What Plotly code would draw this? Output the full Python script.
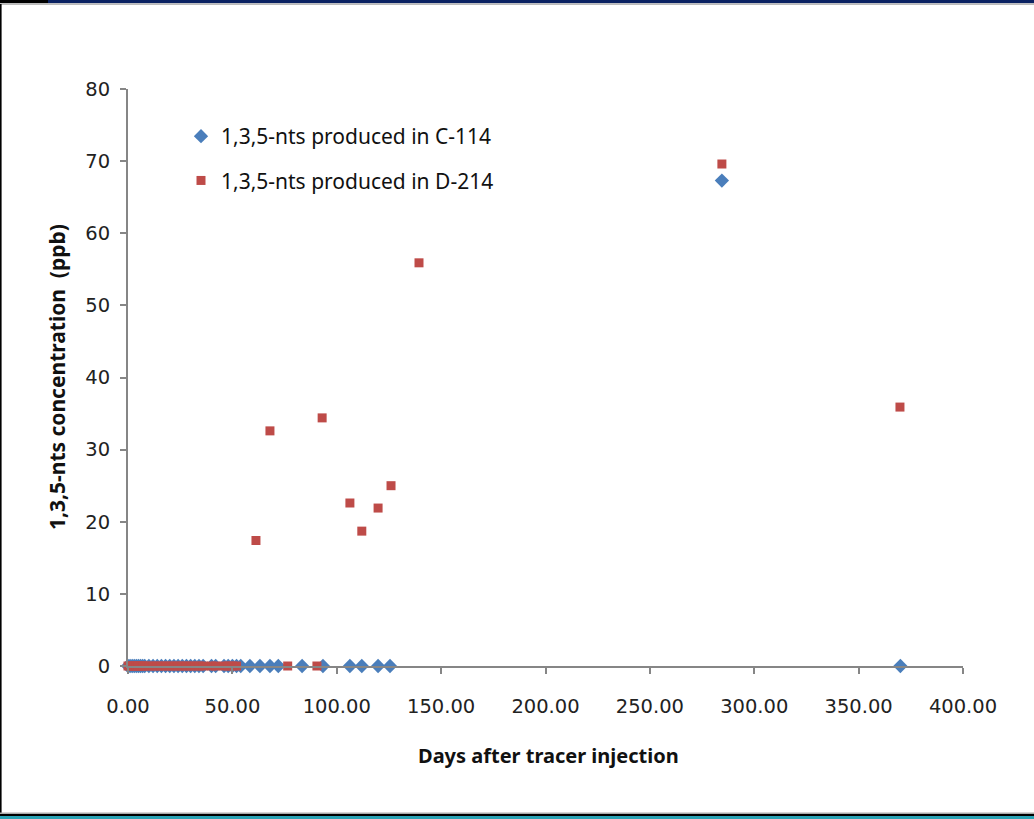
import plotly.graph_objects as go

# ---- data ----
c114_days = [0, 1, 2, 3, 4, 5, 6, 7, 8, 10, 12, 14, 16, 18, 20, 22, 24, 26, 28, 30,
             32, 34, 36, 40, 42, 46, 48, 50, 52, 54, 58.4, 63.2, 68, 72, 83.4, 93.4,
             106.3, 112, 119.8, 125.5, 284.5, 370]
c114_conc = [0] * 40 + [67.3, 0]

d214_days = [0, 1, 2, 3, 4, 5, 6, 7, 8, 10, 12, 14, 16, 18, 20, 22, 24, 26, 28, 30,
             32, 34, 36, 40, 42, 46, 48, 50, 52, 61.3, 68, 76.5, 90.5, 93, 106.3, 112,
             119.8, 126, 139.4, 284.5, 369.8]
d214_conc = [0] * 29 + [17.4, 32.6, 0, 0, 34.4, 22.6, 18.7, 21.9, 25.0, 55.9, 69.6, 35.9]

x_ticks = [0, 50, 100, 150, 200, 250, 300, 350, 400]
y_ticks = [0, 10, 20, 30, 40, 50, 60, 70, 80]

series_names = ["1,3,5-nts produced in C-114", "1,3,5-nts produced in D-214"]

# ---- layout geometry (pixels) ----
W, H = 1034, 819
L, R, T, B = 128, 963, 89, 666


def px(xp):
    return (xp - L) / (R - L)


def py(yp):
    return (B - yp) / (B - T)


fig = go.Figure()
fig.add_trace(go.Scatter(
    x=c114_days, y=c114_conc, mode="markers", name=series_names[0],
    legendgroup="a",
    marker=dict(symbol="diamond", size=11, color="#4A7EBB"),
    cliponaxis=False,
))
fig.add_trace(go.Scatter(
    x=d214_days, y=d214_conc, mode="markers", name=series_names[1],
    legendgroup="b",
    marker=dict(symbol="square", size=9, color="#BE4B48"),
    cliponaxis=False,
))

axis_font = dict(family="DejaVu Sans, Verdana, sans-serif", size=19.5, color="#222222")

fig.update_xaxes(
    range=[0, 400], tickvals=x_ticks, tickformat=".2f",
    showgrid=False, zeroline=False, showline=True, linecolor="#868686", linewidth=2,
    ticks="outside", ticklen=6, tickcolor="#868686", tickwidth=2,
    tickfont=axis_font, ticklabelstandoff=16,
)
fig.update_yaxes(
    range=[0, 80], tickvals=y_ticks,
    showgrid=False, zeroline=False, showline=True, linecolor="#868686", linewidth=2,
    ticks="outside", ticklen=6, tickcolor="#868686", tickwidth=2,
    tickfont=axis_font, ticklabelstandoff=6,
)

shapes = []
# top bars
shapes.append(dict(type="rect", xref="paper", yref="paper", x0=px(0), x1=px(48), y0=py(0), y1=py(3.3),
                   fillcolor="#000000", line=dict(width=0), layer="above"))
shapes.append(dict(type="rect", xref="paper", yref="paper", x0=px(48), x1=px(W), y0=py(0), y1=py(3.3),
                   fillcolor="#0A2262", line=dict(width=0), layer="above"))
shapes.append(dict(type="rect", xref="paper", yref="paper", x0=px(0), x1=px(W), y0=py(3.3), y1=py(5),
                   fillcolor="#BBBBBB", line=dict(width=0), layer="above"))
# left border
shapes.append(dict(type="rect", xref="paper", yref="paper", x0=px(0), x1=px(1.6), y0=py(4), y1=py(815),
                   fillcolor="#000000", line=dict(width=0), layer="above"))
# bottom bars
shapes.append(dict(type="rect", xref="paper", yref="paper", x0=px(0), x1=px(W), y0=py(812.5), y1=py(814),
                   fillcolor="#AAAAAA", line=dict(width=0), layer="above"))
shapes.append(dict(type="rect", xref="paper", yref="paper", x0=px(0), x1=px(W), y0=py(814), y1=py(816),
                   fillcolor="#000000", line=dict(width=0), layer="above"))
shapes.append(dict(type="rect", xref="paper", yref="paper", x0=px(0), x1=px(W), y0=py(816), y1=py(H),
                   fillcolor="#2AA3B5", line=dict(width=0), layer="above"))

annotations = [
    dict(text="<b>Days after tracer injection</b>", xref="paper", yref="paper",
         x=px(548), y=py(755), xanchor="center", yanchor="middle", showarrow=False,
         font=dict(family="Noto Sans, DejaVu Sans, sans-serif", size=20, color="#111111")),
    dict(text="<b>1,3,5-nts concentration\u00a0 (ppb)</b>", xref="paper", yref="paper",
         x=px(57), y=py(377), xanchor="center", yanchor="middle", showarrow=False, textangle=-90,
         font=dict(family="Noto Sans, DejaVu Sans, sans-serif", size=21, color="#111111")),
]

fig.update_layout(
    width=W, height=H,
    margin=dict(l=L, r=W - R, t=T, b=H - B, pad=0),
    paper_bgcolor="white", plot_bgcolor="white",
    showlegend=True,
    legend=dict(x=px(181), y=py(116), xanchor="left", yanchor="top",
                bgcolor="rgba(0,0,0,0)", tracegroupgap=14,
                font=dict(family="Noto Sans, DejaVu Sans, sans-serif", size=21, color="#111111")),
    shapes=shapes,
    annotations=annotations,
)

fig.write_html("out.html")
